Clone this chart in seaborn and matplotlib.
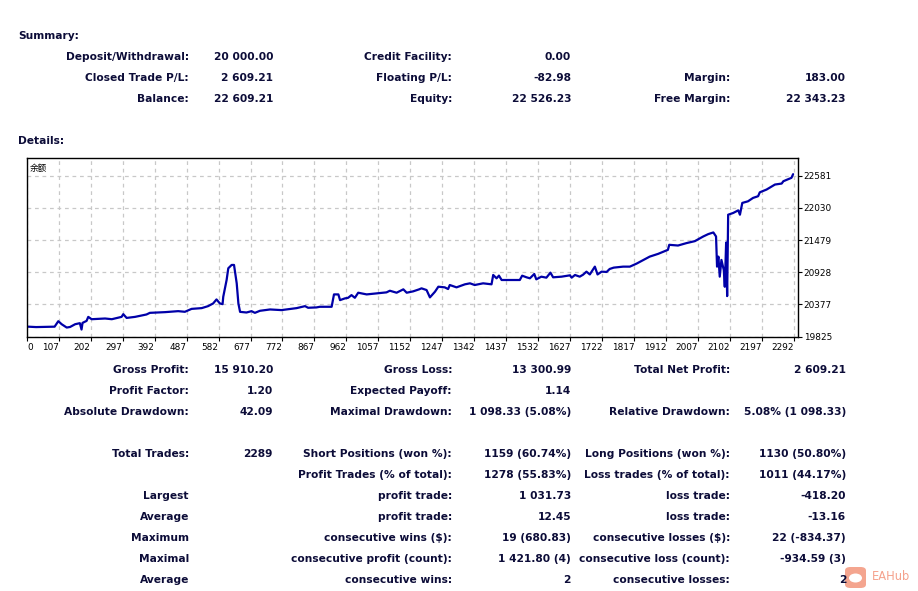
import matplotlib
matplotlib.use("Agg")
import matplotlib.pyplot as plt
from matplotlib.patches import FancyBboxPatch, Ellipse
import seaborn as sns
import pandas as pd

# 报表文字
summary_col1_labels = ["Deposit/Withdrawal:", "Closed Trade P/L:", "Balance:"]
summary_col1_values = ["20 000.00", "2 609.21", "22 609.21"]
summary_col2_labels = ["Credit Facility:", "Floating P/L:", "Equity:"]
summary_col2_values = ["0.00", "-82.98", "22 526.23"]
summary_col3_labels = ["", "Margin:", "Free Margin:"]
summary_col3_values = ["", "183.00", "22 343.23"]

detail_col1_labels = ["Gross Profit:", "Profit Factor:", "Absolute Drawdown:", "", "Total Trades:", "",
                      "Largest", "Average", "Maximum", "Maximal", "Average"]
detail_col1_values = ["15 910.20", "1.20", "42.09", "", "2289", "", "", "", "", "", ""]
detail_col2_labels = ["Gross Loss:", "Expected Payoff:", "Maximal Drawdown:", "", "Short Positions (won %):",
                      "Profit Trades (% of total):", "profit trade:", "profit trade:", "consecutive wins ($):",
                      "consecutive profit (count):", "consecutive wins:"]
detail_col2_values = ["13 300.99", "1.14", "1 098.33 (5.08%)", "", "1159 (60.74%)", "1278 (55.83%)",
                      "1 031.73", "12.45", "19 (680.83)", "1 421.80 (4)", "2"]
detail_col3_labels = ["Total Net Profit:", "", "Relative Drawdown:", "", "Long Positions (won %):",
                      "Loss trades (% of total):", "loss trade:", "loss trade:", "consecutive losses ($):",
                      "consecutive loss (count):", "consecutive losses:"]
detail_col3_values = ["2 609.21", "", "5.08% (1 098.33)", "", "1130 (50.80%)", "1011 (44.17%)",
                      "-418.20", "-13.16", "22 (-834.37)", "-934.59 (3)", "2"]

# 余额曲线
trade_no = [0, 40, 95, 106, 116, 131, 141, 156, 170, 175, 178, 190, 195, 205, 245, 265, 294, 299, 309, 334,
            368, 378, 423, 462, 482, 502, 532, 551, 566, 576, 586, 594, 596, 606, 611, 621, 628, 636, 641, 646,
            665, 680, 690, 705, 735, 769, 814, 839, 848, 873, 883, 918, 925, 938, 943, 957, 967, 977, 987, 997,
            1022, 1051, 1081, 1091, 1111, 1131, 1141, 1160, 1178, 1185, 1200, 1210, 1225, 1235, 1254, 1264,
            1269, 1289, 1314, 1329, 1343, 1368, 1393, 1398, 1408, 1415, 1423, 1477, 1484, 1497, 1507, 1520,
            1526, 1541, 1556, 1568, 1576, 1601, 1626, 1631, 1641, 1655, 1665, 1675, 1685, 1700, 1708, 1720,
            1735, 1744, 1756, 1784, 1804, 1824, 1848, 1863, 1888, 1917, 1921, 1947, 1972, 1997, 2022, 2037,
            2052, 2060, 2063, 2067, 2071, 2076, 2083, 2086, 2090, 2093, 2096, 2111, 2126, 2131, 2138, 2155,
            2170, 2185, 2190, 2210, 2235, 2255, 2260, 2284, 2289]
balance = [20000, 19988, 19995, 20089, 20037, 19980, 19990, 20037, 20055, 19946, 20060, 20094, 20163, 20123,
           20135, 20123, 20163, 20209, 20145, 20163, 20204, 20232, 20244, 20261, 20250, 20300, 20313, 20347,
           20393, 20462, 20393, 20381, 20507, 20795, 20996, 21053, 21053, 20738, 20393, 20249, 20238, 20261,
           20232, 20267, 20290, 20279, 20313, 20347, 20319, 20325, 20336, 20336, 20548, 20548, 20450, 20479,
           20490, 20536, 20490, 20577, 20548, 20565, 20583, 20611, 20577, 20635, 20577, 20600, 20635, 20652,
           20623, 20497, 20594, 20680, 20669, 20640, 20709, 20669, 20721, 20738, 20709, 20738, 20721, 20881,
           20824, 20870, 20795, 20795, 20869, 20841, 20824, 20898, 20806, 20852, 20835, 20921, 20841, 20852,
           20875, 20835, 20881, 20852, 20886, 20938, 20890, 21024, 20890, 20938, 20933, 20984, 21007, 21024,
           21024, 21076, 21151, 21196, 21243, 21312, 21398, 21386, 21427, 21461, 21541, 21582, 21610, 21541,
           21024, 21196, 20852, 21139, 20967, 20679, 21437, 20519, 21914, 21944, 21989, 21914, 22116, 22144,
           22202, 22231, 22298, 22345, 22431, 22448, 22488, 22546, 22609]

y_ticks = [19825, 20377, 20928, 21479, 22030, 22581]
x_tick_labels = ["0", "107", "202", "297", "392", "487", "582", "677", "772", "867", "962", "1057", "1152",
                 "1247", "1342", "1437", "1532", "1627", "1722", "1817", "1912", "2007", "2102", "2197", "2292"]

W, H = 918, 591
TXT = "#0c0c38"
FS = 7.65

sns.set_theme(style="white")
plt.rcParams["font.family"] = ["DejaVu Sans", "Noto Sans CJK SC"]

fig = plt.figure(figsize=(W / 100, H / 100), dpi=100)
fig.patch.set_facecolor("white")


def put(x, y, s, ha="right", **kw):
    fig.text(x / W, 1 - y / H, s, ha=ha, va="center", fontsize=FS, fontweight="bold", color=TXT, **kw)


def column(x, y0, texts):
    for i, s in enumerate(texts):
        if s:
            put(x, y0 + i * 21, s)


# Summary
put(18, 36, "Summary:", ha="left")
column(189, 57, summary_col1_labels)
column(273, 57, summary_col1_values)
column(452, 57, summary_col2_labels)
column(571, 57, summary_col2_values)
column(730, 57, summary_col3_labels)
column(846, 57, summary_col3_values)
put(18, 141, "Details:", ha="left")

# Details
column(189, 370, detail_col1_labels)
column(273, 370, detail_col1_values)
column(452, 370, detail_col2_labels)
column(571, 370, detail_col2_values)
column(730, 370, detail_col3_labels)
column(846, 370, detail_col3_values)

# 余额图
left, right, top, bottom = 27, 797.5, 158, 337
ax = fig.add_axes([left / W, 1 - bottom / H, (right - left) / W, (bottom - top) / H])
df = pd.DataFrame({"trade": trade_no, "balance": balance})
sns.lineplot(data=df, x="trade", y="balance", ax=ax, color="#0000a8", linewidth=1.6,
             estimator=None, sort=False)

x_left, x_right = 13, 2302
ax.set_xlim(x_left, x_right)
ax.set_ylim(19818, 22886)
x_pos = [x_left] + [int(s) for s in x_tick_labels[1:]]
ax.set_xticks(x_pos)
ax.set_xticklabels(x_tick_labels, fontsize=6.4, color="black")
for i, lab in enumerate(ax.get_xticklabels()):
    lab.set_ha("left" if i == 0 else "right")
ax.yaxis.tick_right()
ax.set_yticks(y_ticks)
ax.set_yticklabels([str(v) for v in y_ticks], fontsize=6.4, color="black")
ax.tick_params(axis="both", direction="out", length=3, width=0.8, color="black", pad=1.5)
ax.tick_params(axis="y", right=True, left=False)
ax.tick_params(axis="x", bottom=True)
ax.set_xlabel("")
ax.set_ylabel("")
ax.grid(True, color="#c8c8c8", linestyle=(0, (3, 3)), linewidth=0.9)
for sp in ax.spines.values():
    sp.set_visible(True)
    sp.set_color("black")
    sp.set_linewidth(1.0)
ax.text(0.004, 0.94, "余额", transform=ax.transAxes, fontsize=6.2, color="black",
        family=["Noto Sans CJK SC", "DejaVu Sans"], va="center", ha="left")

# 水印
badge = FancyBboxPatch((845 / W, 1 - 588 / H), 21 / W, 21 / H, boxstyle="round,pad=0,rounding_size=0.006",
                       transform=fig.transFigure, facecolor="#f3957c", edgecolor="none", alpha=0.85)
fig.patches.append(badge)
fig.patches.append(Ellipse((855.5 / W, 1 - 578 / H), 13 / W, 9 / H, transform=fig.transFigure,
                           facecolor="white", edgecolor="none"))
fig.text(872 / W, 1 - 577 / H, "EAHub", fontsize=8.3, color="#f5a28d", ha="left", va="center")

fig.savefig("out.png", dpi=100)
